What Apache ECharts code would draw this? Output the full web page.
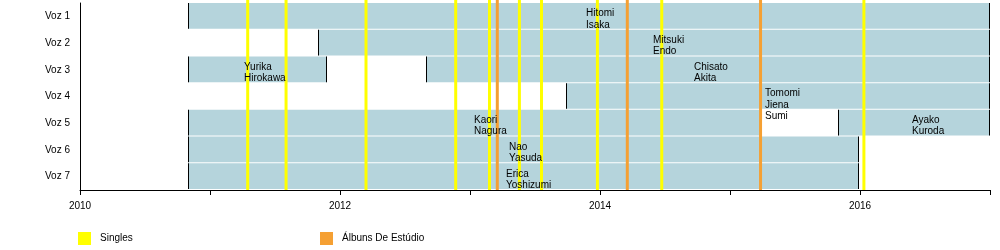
<!DOCTYPE html>
<html><head><meta charset="utf-8">
<script src="https://cdn.jsdelivr.net/npm/echarts@6/dist/echarts.min.js"></script>
<style>html,body{margin:0;padding:0;background:#fff}#c{width:1000px;height:250px}</style>
</head><body><div id="c"></div>
<script>
// ---- data ----
var voices = ['Voz 1', 'Voz 2', 'Voz 3', 'Voz 4', 'Voz 5', 'Voz 6', 'Voz 7'];
var memberNames = ['Hitomi\nIsaka', 'Mitsuki\nEndo', 'Yurika\nHirokawa', 'Chisato\nAkita', 'Tomomi\nJiena\nSumi', 'Kaori\nNagura', 'Ayako\nKuroda', 'Nao\nYasuda', 'Erica\nYoshizumi'];
var memberVoice = [0, 1, 2, 2, 3, 4, 4, 5, 6];
var memberStart = [2010.83, 2011.83, 2010.83, 2012.66, 2013.74, 2010.83, 2015.83, 2010.83, 2010.83];
var memberEnd = [2017.0, 2017.0, 2011.90, 2017.0, 2017.0, 2015.24, 2017.0, 2015.99, 2015.99];
var memberLabelAt = [2013.89, 2014.41, 2011.26, 2014.72, 2015.27, 2013.03, 2016.40, 2013.30, 2013.28];
var singles = [2011.29, 2011.585, 2012.20, 2012.89, 2013.15, 2013.38, 2013.55, 2013.98, 2014.475, 2016.03];
var albums = [2013.21, 2014.21, 2015.235];
var yearTicks = [2010, 2012, 2014, 2016];

var FONT = '"Liberation Sans", Arial, sans-serif';
var barData = memberNames.map(function (n, i) { return [memberVoice[i], memberStart[i], memberEnd[i]]; });
var labelData = memberNames.map(function (n, i) { return [memberVoice[i], memberLabelAt[i], n]; });

function renderBar(params, api) {
  var v = api.value(0);
  var p0 = api.coord([api.value(1), v]);
  var p1 = api.coord([api.value(2), v]);
  var h = api.size([0, 1])[1];
  var top = p0[1] - h / 2;
  var x0 = Math.round(p0[0]), x1 = Math.round(p1[0]);
  return { type: 'group', children: [
    { type: 'rect', shape: { x: x0, y: top, width: x1 - x0, height: h - 1 }, style: { fill: '#b5d4dc' } },
    { type: 'rect', shape: { x: x0, y: top, width: 1, height: h - 1 }, style: { fill: '#000' } },
    { type: 'rect', shape: { x: x1 - 1, y: top, width: 1, height: h - 1 }, style: { fill: '#000' } }
  ]};
}
function renderLine(params, api) {
  var p = api.coord([api.value(0), 0]);
  var cs = params.coordSys;
  return { type: 'rect', shape: { x: p[0] - 1.5, y: cs.y - 3, width: 3, height: cs.height + 3 },
    style: { fill: api.visual('color') } };
}
function renderLabel(params, api) {
  var v = api.value(0);
  var p = api.coord([api.value(1), v]);
  return { type: 'text', x: Math.round(p[0]), y: p[1] - 8.5,
    style: { text: labelData[params.dataIndex][2], fill: '#000', font: '10px ' + FONT, lineHeight: 11.3,
      align: 'left', verticalAlign: 'top' } };
}

var chart = echarts.init(document.getElementById('c'));
chart.setOption({
  animation: false,
  backgroundColor: '#fff',
  grid: { left: 80, right: 10, top: 3, bottom: 60 },
  xAxis: {
    type: 'value', min: 2010, max: 2017, interval: 1,
    axisLine: { show: true, lineStyle: { color: '#000', width: 1 } },
    axisTick: { show: true, length: 5, lineStyle: { color: '#000' } },
    splitLine: { show: false },
    axisLabel: { color: '#000', fontSize: 10, fontFamily: FONT, margin: 11,
      formatter: function (v) { return yearTicks.indexOf(v) >= 0 ? String(v) : ''; } }
  },
  yAxis: {
    type: 'category', data: voices, inverse: true,
    axisLine: { show: true, lineStyle: { color: '#000', width: 1 } },
    axisTick: { show: false },
    splitLine: { show: false },
    axisLabel: { color: '#000', fontSize: 10, fontFamily: FONT, margin: 10 }
  },
  legend: [
    { left: 78, top: 232, padding: 0, itemWidth: 13, itemHeight: 13, icon: 'rect', data: ['Singles'],
      textStyle: { fontSize: 10, color: '#000', fontFamily: FONT, padding: [3, 0, 0, 4] } },
    { left: 320, top: 232, padding: 0, itemWidth: 13, itemHeight: 13, icon: 'rect', data: ['Álbuns De Estúdio'],
      textStyle: { fontSize: 10, color: '#000', fontFamily: FONT, padding: [3, 0, 0, 4] } }
  ],
  series: [
    { type: 'custom', name: 'members', z: 1, renderItem: renderBar, data: barData, encode: { x: [1, 2], y: 0 } },
    { type: 'custom', name: 'Singles', z: 2, itemStyle: { color: '#ffff00' }, renderItem: renderLine,
      data: singles.map(function (s) { return [s, 0]; }), encode: { x: 0, y: 1 } },
    { type: 'custom', name: 'Álbuns De Estúdio', z: 2, itemStyle: { color: '#f5a033' }, renderItem: renderLine,
      data: albums.map(function (s) { return [s, 0]; }), encode: { x: 0, y: 1 } },
    { type: 'custom', name: 'labels', z: 3, renderItem: renderLabel, data: labelData, encode: { x: 1, y: 0 } }
  ]
});
</script></body></html>
